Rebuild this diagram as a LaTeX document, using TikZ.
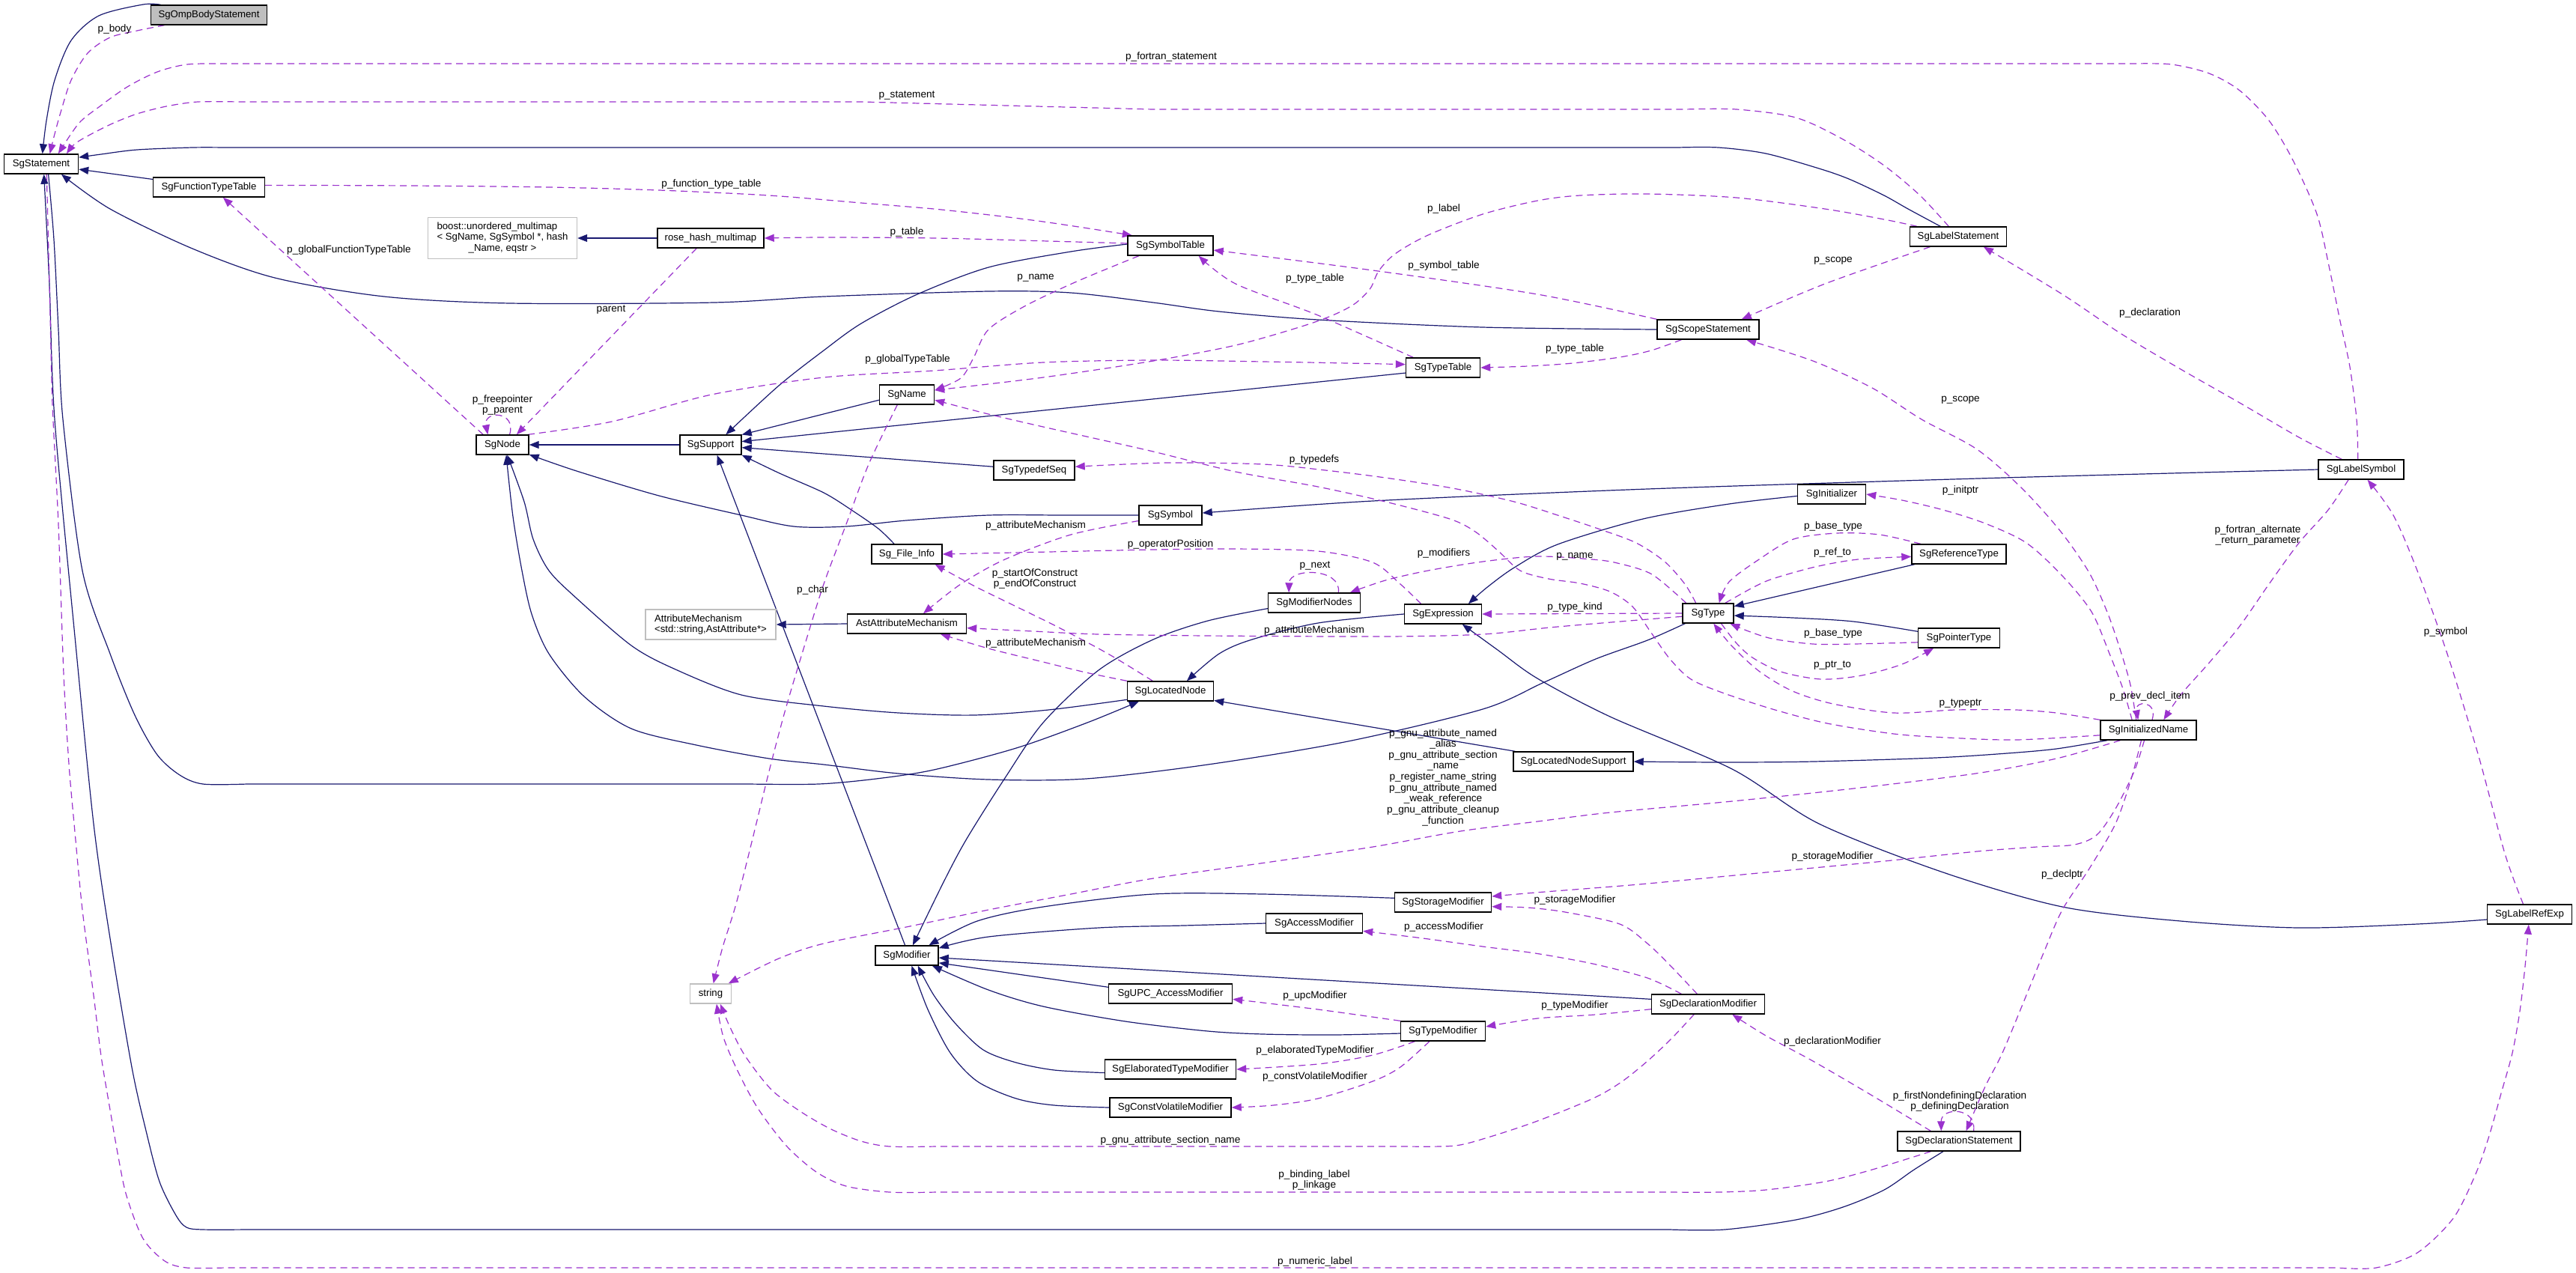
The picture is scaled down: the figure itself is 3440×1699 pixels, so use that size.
\documentclass[tikz,border=0pt]{standalone}
\usepackage{fontspec}
\newfontfamily\dgfont{Liberation Sans}
\usetikzlibrary{arrows.meta}
\definecolor{dgnavy}{HTML}{191970}
\definecolor{dgorch}{HTML}{9A32CD}
\definecolor{dggray}{HTML}{BFBFBF}
\newcommand\dgnodefont{\dgfont\fontsize{6.6}{7.3}\selectfont}
\newcommand\dglabfont{\dgfont\fontsize{6.8}{7.3}\selectfont}
\pgfdeclarelayer{bg}
\pgfsetlayers{bg,main}
\tikzset{
  base/.style={line width=0.7pt, fill=white, font=\dgnodefont, inner xsep=1pt, inner ysep=0pt, minimum height=13pt},
  cls/.style={base, draw=black, text height=5pt, text depth=1.5pt},
  ext/.style={base, draw=dggray},
  inh/.style={draw=dgnavy, line width=0.6pt, -{Triangle[length=6.5pt,width=5pt]}},
  ref/.style={draw=dgorch, line width=0.6pt, dash pattern=on 4.5pt off 3pt, -{Triangle[length=6.5pt,width=5pt]}},
  lbl/.style={font=\dglabfont, inner sep=0pt, align=center},
  sm/.style={smooth, tension=0.5}
}
\begin{document}
\begin{tikzpicture}[x=0.5pt,y=-0.5pt]
\useasboundingbox (0,0) rectangle (3440,1699);
% ---------------- nodes
\node[cls, fill=dggray, minimum width=77.5pt] (omp) at (279,20) {SgOmpBodyStatement};
\node[cls, minimum width=49.5pt] (stmt) at (55,219) {SgStatement};
\node[cls, minimum width=74.5pt] (ftt) at (279,250) {SgFunctionTypeTable};
\node[ext, minimum width=99.5pt, minimum height=27.5pt] (boost) at (671,318) {\begin{tabular}{@{}l@{}}boost::unordered\_multimap\\< SgName, SgSymbol *, hash\\\multicolumn{1}{@{}c@{}}{\_Name, eqstr >}\end{tabular}};
\node[cls, minimum width=71pt] (rose) at (949,318) {rose\_hash\_multimap};
\node[cls, minimum width=57pt] (symtab) at (1563,328) {SgSymbolTable};
\node[cls, minimum width=49.5pt] (typetab) at (1927,491) {SgTypeTable};
\node[cls, minimum width=36.5pt] (name) at (1211,527) {SgName};
\node[cls, minimum width=64.5pt] (labelstmt) at (2615,316) {SgLabelStatement};
\node[cls, minimum width=68pt] (scope) at (2281,440) {SgScopeStatement};
\node[cls, minimum width=35pt] (node) at (671,594) {SgNode};
\node[cls, minimum width=41pt] (support) at (949,594) {SgSupport};
\node[cls, minimum width=54pt] (typedefseq) at (1381,628) {SgTypedefSeq};
\node[cls, minimum width=42pt] (symbol) at (1563,688) {SgSymbol};
\node[cls, minimum width=47pt] (fileinfo) at (1211,740) {Sg\_File\_Info};
\node[cls, minimum width=79.5pt] (astattr) at (1211,833) {AstAttributeMechanism};
\node[ext, minimum width=87pt, minimum height=20pt, align=left] (attrmech) at (949,834) {AttributeMechanism\\<std::string,AstAttribute*>};
\node[cls, minimum width=61.5pt] (modnodes) at (1755,805) {SgModifierNodes};
\node[cls, minimum width=51.5pt] (expr) at (1927,820) {SgExpression};
\node[cls, minimum width=57.5pt] (located) at (1563,923) {SgLocatedNode};
\node[cls, minimum width=80pt] (locsupport) at (2101,1017) {SgLocatedNodeSupport};
\node[cls, minimum width=57pt] (labelsym) at (3153,627) {SgLabelSymbol};
\node[cls, minimum width=45.5pt] (initializer) at (2446,660) {SgInitializer};
\node[cls, minimum width=63pt] (reftype) at (2616,740) {SgReferenceType};
\node[cls, minimum width=34pt] (type) at (2281,819) {SgType};
\node[cls, minimum width=54.5pt] (ptrtype) at (2616,852) {SgPointerType};
\node[cls, minimum width=64pt] (initname) at (2869,975) {SgInitializedName};
\node[cls, minimum width=64.5pt] (storagemod) at (1927,1205) {SgStorageModifier};
\node[cls, minimum width=64.5pt] (accessmod) at (1755,1233) {SgAccessModifier};
\node[cls, minimum width=42pt] (modifier) at (1211,1276) {SgModifier};
\node[cls, minimum width=82.5pt] (upcmod) at (1563,1327) {SgUPC\_AccessModifier};
\node[cls, minimum width=56.5pt] (typemod) at (1927,1377) {SgTypeModifier};
\node[cls, minimum width=87.5pt] (elabmod) at (1563,1428) {SgElaboratedTypeModifier};
\node[cls, minimum width=81pt] (cvmod) at (1563,1479) {SgConstVolatileModifier};
\node[cls, minimum width=75.5pt] (declmod) at (2281,1341) {SgDeclarationModifier};
\node[cls, minimum width=56.5pt] (labelref) at (3378,1221) {SgLabelRefExp};
\node[cls, minimum width=82pt] (declstmt) at (2616,1524) {SgDeclarationStatement};
\node[ext, minimum width=27.5pt] (string) at (949,1327) {string};
% ---------------- edges
\begin{pgfonlayer}{bg}
\fill[white] (0,0) rectangle (3440,1699);
% inheritance
\draw[inh] plot[sm] coordinates {(omp.168) (191,6) (132,21) (95,54) (73,107) (62,161) (stmt.83)};
\draw[inh] (ftt.172) -- (stmt.-8);
\draw[inh] plot[sm] coordinates {(labelstmt.150) (2548,279) (2516,261) (2469,239) (2429,225) (2358,205) (2295,197) (2240,197)} -- plot[sm] coordinates {(300,197) (257,197) (183,200) (135,206) (stmt.10)};
\draw[inh] plot[sm] coordinates {(scope.west) (1980,437) (1760,427) (1628,416) (1540,404) (1430,391) (1320,389) (1100,396) (953,404) (682,405) (513,396) (367,371) (257,332) (147,279) (stmt.-27)};
\draw[inh] plot[sm] coordinates {(declstmt.-147) (2556,1562) (2516,1589) (2461,1612) (2398,1629) (2303,1642) (2230,1642)} -- plot[sm] coordinates {(330,1642) (271,1642) (249,1639) (235,1623) (213,1578) (195,1510) (176,1425) (147,1253) (125,1100) (100,850) (73,560) (66,380) (stmt.-75)};
\draw[inh] plot[sm] coordinates {(stmt.-55) (72,320) (78,440) (84,560) (110,762) (147,873) (180,955) (210,1008) (240,1035) (271,1047) (330,1047)} -- plot[sm] coordinates {(1000,1047) (1093,1047) (1170,1040) (1247,1028) (1357,999) (1452,965) (located.-162)};
\draw[inh] (support.west) -- (node.east);
\draw[inh] plot[sm] coordinates {(symtab.178) (1430,336) (1320,357) (1225,393) (1150,432) (1100,468) (1040,515) (support.34)};
\draw[inh] (name.191) -- (support.18);
\draw[inh] (typetab.188) -- (support.6);
\draw[inh] (typedefseq.175) -- (support.-5);
\draw[inh] plot[sm] coordinates {(fileinfo.141) (1173,706) (1137,681) (1100,658) (1041,632) (support.south east)};
\draw[inh] (modifier.100) -- (support.-58);
\draw[inh] plot[sm] coordinates {(symbol.west) (1420,688) (1320,688) (1210,695) (1130,703) (1060,703) (990,688) (880,662) (770,629) (node.-20)};
\draw[inh] plot[sm] coordinates {(located.191) (1400,948) (1300,955) (1200,952) (1100,943) (990,928) (900,893) (843,862) (770,799) (733,762) (712,720) (700,670) (node.-65)};
\draw[inh] plot[sm] coordinates {(type.-156) (2200,855) (2131,880) (2060,912) (1980,947) (1800,990) (1613,1021) (1450,1040) (1320,1041) (1200,1033) (1100,1021) (1027,1013) (930,995) (843,973) (780,930) (733,873) (710,820) (697,762) (685,690) (node.-70)};
\draw[inh] plot[sm] coordinates {(modnodes.187) (1613,829) (1540,854) (1467,895) (1393,965) (1342,1039) (1291,1120) (1261,1176) (modifier.60)};
\draw[inh] plot[sm] coordinates {(expr.west) (1760,832) (1672,854) (1628,873) (located.32)};
\draw[inh] (locsupport.170) -- (located.-12);
\draw[inh] plot[sm] coordinates {(initname.-166) (2746,1000) (2680,1006) (2584,1012) (2421,1017) (2300,1018) (locsupport.east)};
\draw[inh] plot[sm] coordinates {(initializer.183) (2309,673) (2194,693) (2080,727) (2022,758) (1985,785) (expr.22)};
\draw[inh] plot[sm] coordinates {(labelref.187) (3228,1234) (3070,1239) (2912,1230) (2754,1211) (2595,1165) (2429,1100) (2313,1027) (2150,957) (2053,906) (2000,868) (expr.-28)};
\draw[inh] plot[sm] coordinates {(labelsym.west) (2675,638) (2200,653) (1833,669) (symbol.4)};
\draw[inh] (reftype.-167) -- (type.15);
\draw[inh] plot[sm] coordinates {(ptrtype.171) (2475,830) (2394,825) (type.-5)};
\draw[inh] plot[sm] coordinates {(storagemod.175) (1687,1194) (1540,1194) (1393,1211) (1305,1230) (modifier.25)};
\draw[inh] plot[sm] coordinates {(accessmod.west) (1580,1236) (1467,1239) (1320,1251) (modifier.13)};
\draw[inh] (declmod.175) -- (modifier.-4);
\draw[inh] (upcmod.174) -- (modifier.-13);
\draw[inh] plot[sm] coordinates {(typemod.183) (1780,1382) (1687,1381) (1613,1377) (1503,1364) (1393,1344) (1320,1322) (modifier.-22)};
\draw[inh] plot[sm] coordinates {(elabmod.183) (1408,1429) (1357,1419) (1313,1402) (1276,1367) (1247,1329) (modifier.-43)};
\draw[inh] plot[sm] coordinates {(cvmod.west) (1408,1476) (1357,1467) (1305,1444) (1269,1406) (1239,1348) (modifier.-65)};
\draw[inh] (rose.west) -- (boost.east);
\draw[inh] (astattr.west) -- (attrmech.east);
% references
\draw[ref] plot[sm] coordinates {(omp.-167) (183,41) (147,50) (117,71) (95,107) (81,150) (73,179) (stmt.50)};
\draw[ref] plot[sm] coordinates {(labelsym.107) (3147,560) (3138,490) (3125,429) (3110,355) (3094,286) (3062,214) (3030,161) (2991,121) (2950,98) (2900,86) (2850,85)} -- plot[sm] coordinates {(300,85) (250,86) (210,96) (170,116) (132,143) (105,165) (stmt.31)};
\draw[ref] plot[sm] coordinates {(labelstmt.133) (2564,261) (2516,221) (2461,186) (2398,157) (2319,146) (2250,146)} -- (1540,146) -- (1150,136) -- plot[sm] coordinates {(320,136) (264,136) (222,142) (183,152) (150,165) (120,180) (100,192) (stmt.22)};
\draw[ref] plot[sm] coordinates {(ftt.2) (550,248) (733,250) (880,254) (1027,261) (1150,271) (1247,279) (1330,288) (1393,296) (1460,306) (symtab.165)};
\draw[ref] plot[sm] coordinates {(symtab.177) (1400,322) (1250,318) (1100,317) (rose.east)};
\draw[ref] (node.152) -- (ftt.-36);
\draw[ref] (rose.-144) -- (node.36);
\draw[ref] (node.55) .. controls (690,548) and (645,548) .. (node.145);
\draw[ref] plot[sm] coordinates {(node.22) (817,563) (950,527) (1100,504) (1247,495) (1393,484) (1540,481) (1687,483) (1800,485) (typetab.175)};
\draw[ref] plot[sm] coordinates {(symtab.-162) (1440,375) (1370,408) (1320,440) (1300,478) (1283,505) (name.9)};
\draw[ref] plot[sm] coordinates {(typetab.161) (1760,421) (1650,379) (symtab.-20)};
\draw[ref] plot[sm] coordinates {(scope.north west) (2053,393) (1833,361) (symtab.-6)};
\draw[ref] plot[sm] coordinates {(scope.-159) (2205,468) (2163,477) (2100,485) (2040,489) (typetab.east)};
\draw[ref] plot[sm] coordinates {(labelstmt.166) (2516,293) (2437,279) (2319,264) (2200,259) (2110,261) (2053,268) (1980,286) (1907,314) (1863,339) (1841,362) (1830,385) (1810,405) (1782,420) (1738,436) (1650,461) (1540,482) (1393,504) (name.9)};
\draw[ref] plot[sm] coordinates {(labelstmt.-160) (2437,379) (scope.17)};
\draw[ref] plot[sm] coordinates {(initname.140) (2845,915) (2833,873) (2815,820) (2790,765) (2752,710) (2700,652) (2640,600) (2566,560) (2500,518) (2421,482) (scope.-15)};
\draw[ref] plot[sm] coordinates {(labelsym.152) (3070,584) (2991,538) (2912,493) (2833,446) (2754,393) (labelstmt.-22)};
\draw[ref] plot[sm] coordinates {(labelsym.-141) (3109,681) (3070,725) (3030,780) (2991,836) (2951,884) (2912,928) (initname.34)};
\draw[ref] plot[sm] coordinates {(labelref.122) (3345,1140) (3310,1010) (3268,873) (3228,762) (3196,688) (labelsym.-58)};
\draw[ref] plot[sm] coordinates {(type.140) (2250,780) (2223,750) (2185,725) (2137,707) (2080,688) (2022,670) (1940,652) (1850,638) (1770,628) (1687,620) (1560,618) (typedefseq.5)};
\draw[ref] plot[sm] coordinates {(initname.186) (2692,988) (2600,985) (2529,980) (2440,966) (2367,947) (2300,925) (2258,907) (2230,880) (2205,845) (2180,810) (2150,790) (2110,779) (2068,773) (2030,762) (2000,735) (1970,710) (1936,693) (1850,670) (1760,650) (1650,630) (1540,603) (1460,585) (1393,570) (1320,553) (name.-11)};
\draw[ref] plot[sm] coordinates {(type.155) (2206,767) (2160,752) (2126,747) (2053,743) (1980,750) (1907,762) (1850,775) (modnodes.16)};
\draw[ref] (modnodes.23) .. controls (1792,758) and (1722,758) .. (modnodes.158);
\draw[ref] plot[sm] coordinates {(expr.155) (1870,780) (1833,751) (1760,736) (1650,733) (1540,734) (1400,737) (fileinfo.east)};
\draw[ref] plot[sm] coordinates {(located.150) (1500,885) (1467,866) (1410,836) (1357,810) (1300,782) (fileinfo.-20)};
\draw[ref] plot[sm] coordinates {(symbol.190) (1430,714) (1342,747) (1283,780) (astattr.32)};
\draw[ref] plot[sm] coordinates {(located.north west) (1450,898) (1393,884) (1320,866) (astattr.-17)};
\draw[ref] plot[sm] coordinates {(type.187) (2080,837) (1980,847) (1850,850) (1613,849) (1467,847) (1380,843) (astattr.-4)};
\draw[ref] (type.west) -- (expr.east);
\draw[ref] plot[sm] coordinates {(reftype.165) (2510,714) (2453,712) (2395,720) (2349,747) (2309,777) (type.43)};
\draw[ref] plot[sm] coordinates {(type.31) (2340,785) (2367,773) (2424,757) (2481,747) (reftype.183)};
\draw[ref] plot[sm] coordinates {(ptrtype.186) (2475,860) (2421,860) (2367,853) (2335,843) (type.-25)};
\draw[ref] plot[sm] coordinates {(type.-38) (2318,858) (2340,878) (2378,897) (2432,907) (2486,902) (2540,887) (ptrtype.-158)};
\draw[ref] plot[sm] coordinates {(initname.north west) (2746,952) (2692,948) (2611,948) (2529,952) (2448,940) (2394,923) (2350,897) (2313,863) (type.-62)};
\draw[ref] plot[sm] coordinates {(initname.148) (2835,920) (2817,873) (2793,817) (2754,769) (2706,725) (2651,699) (2595,681) (2540,668) (initializer.east)};
\draw[ref] (initname.70) .. controls (2882,935) and (2850,935) .. (initname.135);
\draw[ref] plot[sm] coordinates {(initname.-125) (2846,1040) (2825,1100) (2790,1160) (2754,1215) (2730,1270) (2706,1329) (2674,1406) (2651,1451) (declstmt.55)};
\draw[ref] plot[sm] coordinates {(initname.-112) (2850,1030) (2825,1080) (2800,1115) (2770,1128) (2720,1131) (2640,1137) (2516,1150) (2358,1165) (2200,1180) (2127,1186) (2050,1192) (storagemod.7)};
\draw[ref] plot[sm] coordinates {(initname.-160) (2746,1013) (2638,1033) (2475,1053) (2313,1070) (2150,1085) (2053,1097) (1950,1110) (1833,1131) (1690,1152) (1540,1173) (1430,1194) (1320,1215) (1210,1238) (1100,1260) (1040,1280) (string.30)};
\draw[ref] plot[sm] coordinates {(name.-133) (1160,620) (1130,700) (1100,780) (1075,860) (1049,947) (1027,1030) (1005,1120) (983,1207) (965,1265) (string.75)};
\draw[ref] plot[sm] coordinates {(declmod.137) (2232,1291) (2200,1260) (2163,1234) (2090,1218) (2040,1212) (storagemod.-5)};
\draw[ref] plot[sm] coordinates {(declmod.159) (2200,1306) (2127,1287) (2050,1273) (1980,1264) (1900,1253) (accessmod.-9)};
\draw[ref] plot[sm] coordinates {(declmod.185) (2130,1355) (2053,1360) (typemod.6)};
\draw[ref] plot[sm] coordinates {(typemod.north west) (1760,1348) (upcmod.-5)};
\draw[ref] plot[sm] coordinates {(typemod.-160) (1833,1409) (1760,1421) (elabmod.east)};
\draw[ref] plot[sm] coordinates {(typemod.-143) (1870,1425) (1833,1444) (1760,1467) (1700,1476) (cvmod.east)};
\draw[ref] plot[sm] coordinates {(declstmt.160) (2500,1463) (2421,1417) (2358,1383) (declmod.-23)};
\draw[ref] (declstmt.35) .. controls (2640,1478) and (2592,1478) .. (declstmt.150);
\draw[ref] plot[sm] coordinates {(declmod.-144) (2232,1387) (2200,1417) (2165,1445) (2127,1467) (2053,1497) (1990,1518) (1943,1530) (1880,1531)} -- plot[sm] coordinates {(1250,1531) (1188,1531) (1150,1524) (1110,1508) (1070,1485) (1030,1455) (995,1410) (975,1372) (string.-47)};
\draw[ref] plot[sm] coordinates {(declstmt.-160) (2500,1562) (2437,1578) (2358,1589) (2295,1592) (2230,1592)} -- plot[sm] coordinates {(1250,1592) (1188,1592) (1130,1584) (1090,1565) (1050,1530) (1012,1480) (985,1430) (966,1385) (string.-60)};
\draw[ref] plot[sm] coordinates {(stmt.-62) (64,300) (67,420) (70,540) (78,700) (85,900) (92,1020) (99,1100) (110,1215) (125,1329) (135,1410) (147,1482) (158,1545) (169,1597) (191,1654) (220,1684) (249,1693) (300,1693)} -- plot[sm] coordinates {(3120,1693) (3173,1693) (3228,1673) (3276,1627) (3305,1570) (3323,1520) (3340,1460) (3355,1406) (3365,1350) (3372,1290) (labelref.-95)};
\end{pgfonlayer}
% ---------------- labels
\node[lbl] (l1) at (153,39) {p\_body};
\node[lbl] (l2) at (1564,76) {p\_fortran\_statement};
\node[lbl] (l3) at (1211,128) {p\_statement};
\node[lbl] (l4) at (950,246) {p\_function\_type\_table};
\node[lbl] (l5) at (1928,279) {p\_label};
\node[lbl] (l6) at (1211,310) {p\_table};
\node[lbl] (l7) at (466,334) {p\_globalFunctionTypeTable};
\node[lbl] (l8) at (1928,355) {p\_symbol\_table};
\node[lbl] (l9) at (2448,348) {p\_scope};
\node[lbl] (l10) at (1383,371) {p\_name};
\node[lbl] (l11) at (1756,372) {p\_type\_table};
\node[lbl] (l12) at (816,414) {parent};
\node[lbl] (l13) at (2871,418) {p\_declaration};
\node[lbl] (l14) at (2103,466) {p\_type\_table};
\node[lbl] (l15) at (1212,480) {p\_globalTypeTable};
\node[lbl] (l16) at (2618,534) {p\_scope};
\node[lbl] (l17) at (671,541) {p\_freepointer\\p\_parent};
\node[lbl] (l18) at (1755,614) {p\_typedefs};
\node[lbl] (l19) at (2618,655) {p\_initptr};
\node[lbl] (l20) at (1383,702) {p\_attributeMechanism};
\node[lbl] (l21) at (2448,703) {p\_base\_type};
\node[lbl] (l22) at (3015,715) {p\_fortran\_alternate\\\_return\_parameter};
\node[lbl] (l23) at (1563,727) {p\_operatorPosition};
\node[lbl] (l24) at (2447,738) {p\_ref\_to};
\node[lbl] (l25) at (1928,739) {p\_modifiers};
\node[lbl] (l26) at (2103,743) {p\_name};
\node[lbl] (l27) at (1756,755) {p\_next};
\node[lbl] (l28) at (1382,773) {p\_startOfConstruct\\p\_endOfConstruct};
\node[lbl] (l29) at (1085,788) {p\_char};
\node[lbl] (l30) at (2103,811) {p\_type\_kind};
\node[lbl] (l31) at (1755,842) {p\_attributeMechanism};
\node[lbl] (l32) at (3266,844) {p\_symbol};
\node[lbl] (l33) at (2448,846) {p\_base\_type};
\node[lbl] (l34) at (1383,859) {p\_attributeMechanism};
\node[lbl] (l35) at (2447,888) {p\_ptr\_to};
\node[lbl] (l36) at (2871,930) {p\_prev\_decl\_item};
\node[lbl] (l37) at (2618,939) {p\_typeptr};
\node[lbl] (l38) at (1927,1038) {p\_gnu\_attribute\_named\\\_alias\\p\_gnu\_attribute\_section\\\_name\\p\_register\_name\_string\\p\_gnu\_attribute\_named\\\_weak\_reference\\p\_gnu\_attribute\_cleanup\\\_function};
\node[lbl] (l39) at (2447,1144) {p\_storageModifier};
\node[lbl] (l40) at (2754,1168) {p\_declptr};
\node[lbl] (l41) at (2103,1202) {p\_storageModifier};
\node[lbl] (l42) at (1928,1238) {p\_accessModifier};
\node[lbl] (l43) at (1756,1330) {p\_upcModifier};
\node[lbl] (l44) at (2103,1343) {p\_typeModifier};
\node[lbl] (l45) at (2447,1391) {p\_declarationModifier};
\node[lbl] (l46) at (1756,1403) {p\_elaboratedTypeModifier};
\node[lbl] (l47) at (1756,1438) {p\_constVolatileModifier};
\node[lbl] (l48) at (2617,1471) {p\_firstNondefiningDeclaration\\p\_definingDeclaration};
\node[lbl] (l49) at (1563,1523) {p\_gnu\_attribute\_section\_name};
\node[lbl] (l50) at (1755,1576) {p\_binding\_label\\p\_linkage};
\node[lbl] (l51) at (1756,1685) {p\_numeric\_label};
\end{tikzpicture}
\end{document}
